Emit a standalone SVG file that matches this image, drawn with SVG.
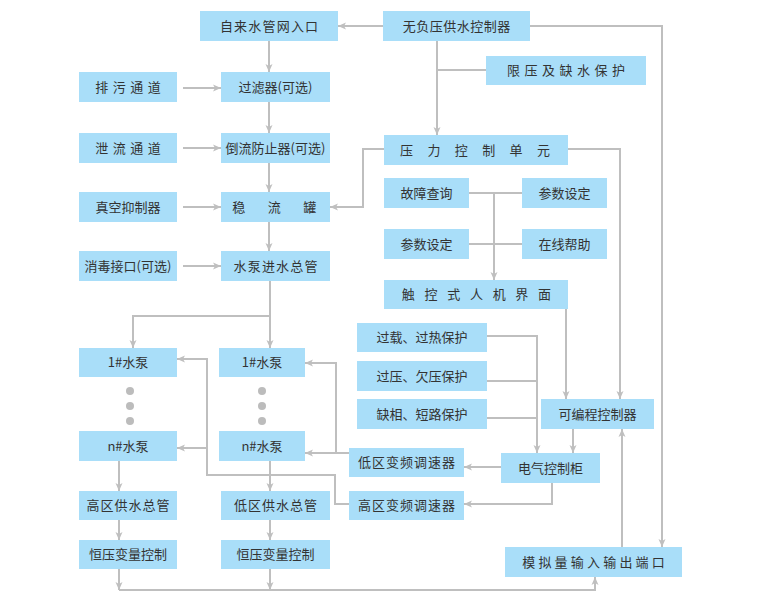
<svg xmlns="http://www.w3.org/2000/svg" width="764" height="599" viewBox="0 0 764 599">
<style>
.b{fill:#a9def9}
.t{font-family:"Noto Sans CJK SC","Noto Sans",sans-serif;font-size:13px;fill:#333;text-anchor:middle}
.c{fill:none;stroke:#bfbfbf;stroke-width:2}
.a{marker-end:url(#ah)}
.d{fill:#bcbcbc}
</style>
<defs>
<marker id="ah" markerUnits="userSpaceOnUse" markerWidth="10" markerHeight="10" refX="8" refY="4" orient="auto">
<path d="M0,0.5 L8,4 L0,7.5 L2,4 z" fill="#bfbfbf"/>
</marker>
</defs>
<rect width="764" height="599" fill="#fff"/>
<g id="connectors">
<path class="c a" d="M383,26 H338"/>
<path class="c a" d="M269,41 V72"/>
<path class="c a" d="M183,88 H221"/>
<path class="c a" d="M269,102 V133"/>
<path class="c a" d="M183,148 H221"/>
<path class="c a" d="M269,163 V192"/>
<path class="c a" d="M183,207 H221"/>
<path class="c a" d="M384,149 H363 V207 H330"/>
<path class="c a" d="M269,222 V251"/>
<path class="c a" d="M183,266 H221"/>
<path class="c a" d="M270,281 V348"/>
<path class="c a" d="M270,316 H133 V348"/>
<path class="c a" d="M437,41 V135"/>
<path class="c" d="M486,70 H437"/>
<path class="c a" d="M530,26 H662 V547"/>
<path class="c a" d="M568,149 H620 V399"/>
<path class="c" d="M469,193 H522"/>
<path class="c" d="M469,244 H522"/>
<path class="c a" d="M494,193 V280"/>
<path class="c a" d="M566,309 V399"/>
<path class="c a" d="M487,336 H537 V453"/>
<path class="c" d="M487,381 H537"/>
<path class="c" d="M487,418 H537"/>
<path class="c a" d="M573,429 V453"/>
<path class="c a" d="M501,467 H464"/>
<path class="c a" d="M552,483 V504 H464"/>
<path class="c a" d="M622,547 V429"/>
<path class="c a" d="M119,461 V491"/>
<path class="c a" d="M119,520 V540"/>
<path class="c a" d="M270,461 V491"/>
<path class="c a" d="M270,520 V540"/>
<path class="c a" d="M119,569 V590"/>
<path class="c a" d="M270,569 V590"/>
<path class="c a" d="M119,590 H595 V577"/>
<path class="c a" d="M349,453 H305"/>
<path class="c a" d="M336,453 V363 H305"/>
<path class="c a" d="M349,504 H335 V475 H207 V359 H177"/>
<path class="c a" d="M207,448 H177"/>
</g>
<g id="n1"><rect class="b" x="200" y="11" width="138" height="30"/><text class="t" x="269.6" y="30.5" letter-spacing="1.2">自来水管网入口</text></g>
<g id="n2"><rect class="b" x="383" y="11" width="147" height="30"/><text class="t" x="456.8" y="30.5" letter-spacing="0.5">无负压供水控制器</text></g>
<g id="n3"><rect class="b" x="79" y="72" width="98" height="30"/><text class="t" x="130.2" y="91.5" letter-spacing="4.5">排污通道</text></g>
<g id="n4"><rect class="b" x="221" y="72" width="109" height="30"/><text class="t" x="275.5" y="91.5">过滤器(可选)</text></g>
<g id="n5"><rect class="b" x="486" y="56" width="160" height="29"/><text class="t" x="568.2" y="75" letter-spacing="4.5">限压及缺水保护</text></g>
<g id="n6"><rect class="b" x="79" y="133" width="98" height="30"/><text class="t" x="130.2" y="152.5" letter-spacing="4.5">泄流通道</text></g>
<g id="n7"><rect class="b" x="221" y="133" width="109" height="30"/><text class="t" x="275.5" y="152.5">倒流防止器(可选)</text></g>
<g id="n8"><rect class="b" x="384" y="135" width="184" height="30"/><text class="t" x="482.2" y="154.5" letter-spacing="14.4">压力控制单元</text></g>
<g id="n9"><rect class="b" x="384" y="178" width="85" height="30"/><text class="t" x="426.5" y="197.5">故障查询</text></g>
<g id="n10"><rect class="b" x="522" y="178" width="85" height="30"/><text class="t" x="564.5" y="197.5">参数设定</text></g>
<g id="n11"><rect class="b" x="79" y="192" width="98" height="30"/><text class="t" x="128" y="211.5">真空抑制器</text></g>
<g id="n12"><rect class="b" x="221" y="192" width="109" height="30"/><text class="t" x="285.6" y="211.5" letter-spacing="22.5">稳流罐</text></g>
<g id="n13"><rect class="b" x="384" y="229" width="85" height="30"/><text class="t" x="426.5" y="248.5">参数设定</text></g>
<g id="n14"><rect class="b" x="522" y="229" width="85" height="30"/><text class="t" x="564.5" y="248.5">在线帮助</text></g>
<g id="n15"><rect class="b" x="79" y="251" width="98" height="30"/><text class="t" x="128" y="270.5">消毒接口(可选)</text></g>
<g id="n16"><rect class="b" x="221" y="251" width="109" height="30"/><text class="t" x="276.1" y="270.5" letter-spacing="1.2">水泵进水总管</text></g>
<g id="n17"><rect class="b" x="384" y="280" width="184" height="29"/><text class="t" x="481.3" y="299" letter-spacing="9.7">触控式人机界面</text></g>
<g id="n18"><rect class="b" x="357" y="323" width="130" height="29"/><text class="t" x="422" y="342">过载、过热保护</text></g>
<g id="n19"><rect class="b" x="79" y="348" width="98" height="29"/><text class="t" x="128" y="367">1#水泵</text></g>
<g id="n20"><rect class="b" x="219" y="348" width="86" height="29"/><text class="t" x="262" y="367">1#水泵</text></g>
<g id="n21"><rect class="b" x="357" y="361" width="130" height="30"/><text class="t" x="422" y="380.5">过压、欠压保护</text></g>
<g id="dots">
<circle class="d" cx="130" cy="391" r="4"/><circle class="d" cx="130" cy="406" r="4"/><circle class="d" cx="130" cy="421" r="4"/>
<circle class="d" cx="262" cy="391" r="4"/><circle class="d" cx="262" cy="406" r="4"/><circle class="d" cx="262" cy="421" r="4"/>
</g>
<g id="n22"><rect class="b" x="357" y="399" width="130" height="30"/><text class="t" x="422" y="418.5">缺相、短路保护</text></g>
<g id="n23"><rect class="b" x="541" y="399" width="113" height="30"/><text class="t" x="597.5" y="418.5">可编程控制器</text></g>
<g id="n24"><rect class="b" x="79" y="431" width="98" height="30"/><text class="t" x="128" y="450.5">n#水泵</text></g>
<g id="n25"><rect class="b" x="219" y="431" width="86" height="30"/><text class="t" x="262" y="450.5">n#水泵</text></g>
<g id="n26"><rect class="b" x="349" y="448" width="115" height="29"/><text class="t" x="407" y="467" letter-spacing="1">低区变频调速器</text></g>
<g id="n27"><rect class="b" x="501" y="453" width="99" height="30"/><text class="t" x="550.5" y="472.5">电气控制柜</text></g>
<g id="n28"><rect class="b" x="79" y="491" width="98" height="29"/><text class="t" x="128.5" y="510" letter-spacing="1">高区供水总管</text></g>
<g id="n29"><rect class="b" x="221" y="491" width="109" height="29"/><text class="t" x="276" y="510" letter-spacing="1">低区供水总管</text></g>
<g id="n30"><rect class="b" x="349" y="491" width="115" height="29"/><text class="t" x="407" y="510" letter-spacing="1">高区变频调速器</text></g>
<g id="n31"><rect class="b" x="79" y="540" width="98" height="29"/><text class="t" x="128" y="559">恒压变量控制</text></g>
<g id="n32"><rect class="b" x="221" y="540" width="109" height="29"/><text class="t" x="275.5" y="559">恒压变量控制</text></g>
<g id="n33"><rect class="b" x="505" y="547" width="177" height="30"/><text class="t" x="595.1" y="566.5" letter-spacing="3.2">模拟量输入输出端口</text></g>
</svg>
